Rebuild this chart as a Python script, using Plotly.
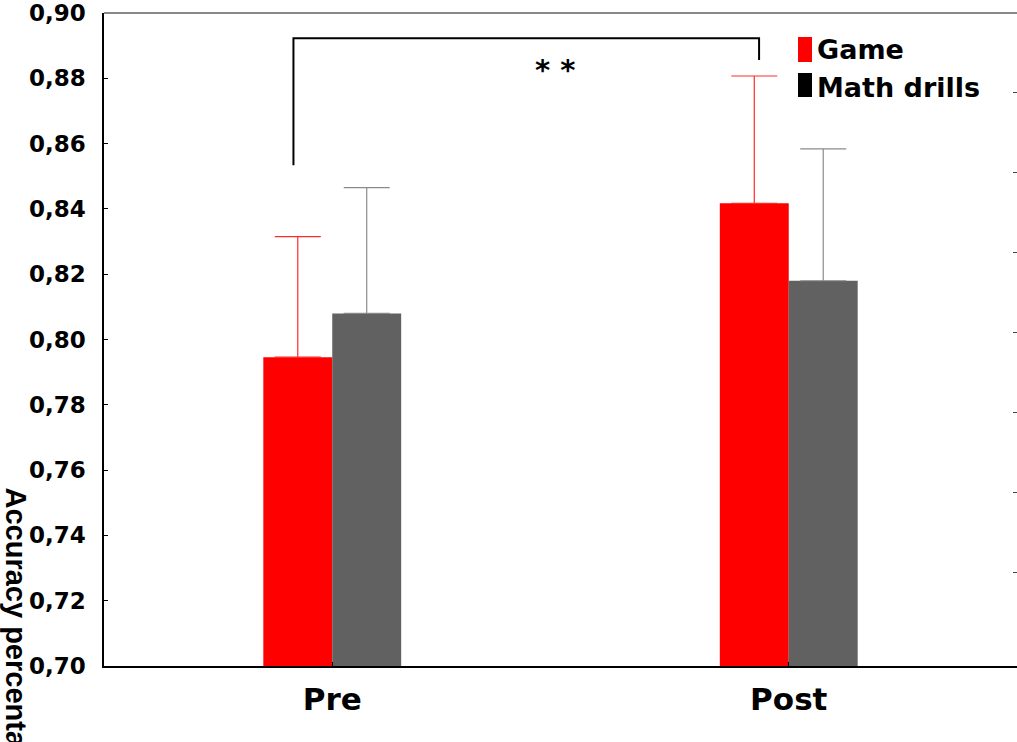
import numpy as np
import plotly.graph_objects as go

# Group means and upper error bars (accuracy proportion)
categories = ["Pre", "Post"]
game_mean = [0.7946, 0.8417]
game_err = [0.0369, 0.0390]
drills_mean = [0.8080, 0.8180]
drills_err = [0.0385, 0.0404]

W, H = 1017, 742
ML, MT, MB, MR = 104, 13, 76, 0
PW, PH = W - ML - MR, H - MT - MB


def px_x(px):
    return (px - ML) / PW


def px_y(py):
    return (H - MB - py) / PH


TXT = "DejaVu Sans"

fig = go.Figure()
fig.add_trace(go.Bar(
    x=categories, y=game_mean, name="Game",
    marker=dict(color="#ff0000", line=dict(width=0)),
    error_y=dict(type="data", array=game_err, arrayminus=[0, 0], symmetric=False,
                 color="#ff2a2a", thickness=1.2, width=23),
))
fig.add_trace(go.Bar(
    x=categories, y=drills_mean, name="Math drills",
    marker=dict(color="#616161", line=dict(width=0)),
    error_y=dict(type="data", array=drills_err, arrayminus=[0, 0], symmetric=False,
                 color="#8a8a8a", thickness=1.2, width=23),
))
# helper trace so the right-hand tick axis is drawn
fig.add_trace(go.Scatter(x=categories, y=[None, None], yaxis="y2",
                         showlegend=False, hoverinfo="skip"))

fig.update_layout(
    width=W, height=H,
    margin=dict(l=ML, r=MR, t=MT, b=MB),
    paper_bgcolor="white", plot_bgcolor="white",
    barmode="group", bargap=0.698, bargroupgap=0,
    showlegend=False,
    separators=", ",
    xaxis=dict(
        type="category", range=[-0.5, 1.5],
        showline=True, linecolor="black", linewidth=1.5,
        ticks="inside", ticklen=4, tickcolor="black",
        tickfont=dict(family=TXT, size=31, color="black", weight="bold"),
        ticklabelstandoff=5,
        showgrid=False, zeroline=False,
    ),
    yaxis=dict(
        range=[0.70, 0.90], dtick=0.02, tickformat=".2f",
        showline=True, linecolor="black", linewidth=1.5,
        ticks="inside", ticklen=4, tickcolor="black",
        tickfont=dict(family=TXT, size=23, color="black", weight="bold"),
        ticklabelstandoff=12,
        showgrid=False, zeroline=False,
    ),
    yaxis2=dict(
        overlaying="y", side="right", range=[0, PH / 80],
        tickvals=list(np.arange(1.175, 8.0, 1.0)),
        ticks="inside", ticklen=4, tickcolor="#444444",
        showticklabels=False, showline=False, showgrid=False, zeroline=False,
    ),
)

# grey frame line along the top of the plot area
fig.add_shape(type="line", xref="paper", yref="paper", x0=0, x1=1.01, y0=1, y1=1,
              line=dict(color="#888888", width=2))

# significance bracket between Pre and Post (Game)
bracket = dict(color="black", width=2)
fig.add_shape(type="path", xref="x", yref="y",
              path="M -0.085,0.8534 L -0.085,0.8923 L 0.935,0.8923 L 0.935,0.8856",
              line=bracket)
fig.add_annotation(x=0.488, y=0.8826, xref="x", yref="y", text="* *",
                   showarrow=False, font=dict(family=TXT, size=29, color="black", weight="bold"))

# legend swatches and labels
swatches = [("Game", "#ff0000", 37, 62, 50), ("Math drills", "#000000", 73, 97, 87)]
for label, color, top, bottom, mid in swatches:
    fig.add_shape(type="rect", xref="paper", yref="paper",
                  x0=px_x(798), x1=px_x(812), y0=px_y(bottom), y1=px_y(top),
                  fillcolor=color, line=dict(width=0))
    fig.add_annotation(x=px_x(815), y=px_y(mid), xref="paper", yref="paper",
                       text=label, showarrow=False, xanchor="left", yanchor="middle",
                       font=dict(family=TXT, size=27, color="black", weight="bold"))

# rotated y-axis title reading top to bottom
fig.add_annotation(x=px_x(16), y=px_y(485), xref="paper", yref="paper",
                   text="Accuracy percentage", textangle=90, showarrow=False,
                   xanchor="center", yanchor="top",
                   font=dict(family="Liberation Sans", size=29, color="black", weight="bold"))

fig.write_html("out.html")
